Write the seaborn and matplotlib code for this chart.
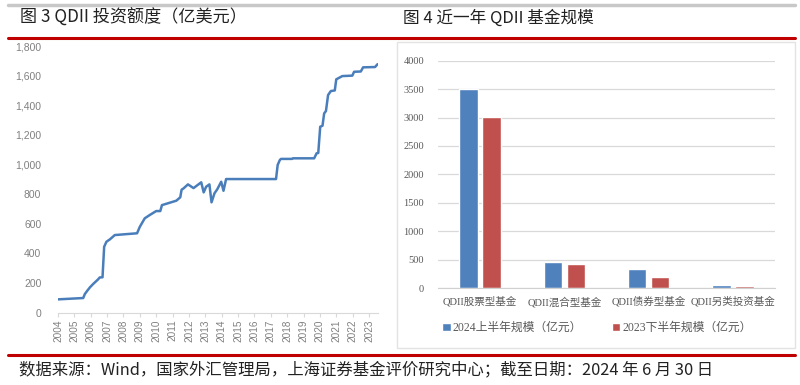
import matplotlib.pyplot as plt
import seaborn as sns
import pandas as pd
from matplotlib.lines import Line2D
from matplotlib.patches import Rectangle
from matplotlib.ticker import FuncFormatter

# QDII investment quota (100 million USD)
quota_year = [2004.00, 2005.54, 2005.64, 2005.80, 2005.95, 2006.15, 2006.45, 2006.55, 2006.72,
              2006.82, 2006.96, 2007.17, 2007.47, 2008.83, 2009.00, 2009.30, 2009.60, 2010.00,
              2010.25, 2010.35, 2010.82, 2011.23, 2011.47, 2011.55, 2011.67, 2011.94, 2012.28,
              2012.75, 2012.90, 2013.05, 2013.25, 2013.38, 2013.56, 2013.73, 2013.97, 2014.11,
              2014.27, 2017.32, 2017.42, 2017.55, 2017.62, 2018.30, 2018.35, 2019.65, 2019.80,
              2019.90, 2020.02, 2020.16, 2020.26, 2020.37, 2020.50, 2020.67, 2020.91, 2021.00,
              2021.37, 2021.98, 2022.09, 2022.50, 2022.64, 2023.37, 2023.51, 2023.57]
quota_value = [90, 99, 126, 150, 171, 194, 225, 238, 239,
               445, 479, 495, 524, 536, 580, 637, 659, 686,
               686, 726, 742, 756, 779, 830, 839, 866, 841,
               880, 812, 850, 866, 745, 806, 833, 884, 823,
               902, 902, 997, 1030, 1038, 1038, 1042, 1042, 1076,
               1078, 1255, 1262, 1345, 1361, 1469, 1496, 1500, 1575,
               1597, 1600, 1626, 1628, 1656, 1658, 1676, 1678]
year_ticks = list(range(2004, 2024))

# QDII fund size (100 million CNY)
fund_types = ['QDII股票型基金', 'QDII混合型基金', 'QDII债券型基金', 'QDII另类投资基金']
size_2024h1 = [3495, 451, 339, 47]
size_2023h2 = [3010, 421, 188, 35]
series_names = ['2024上半年规模（亿元）', '2023下半年规模（亿元）']

W, H = 800, 385


def fx(px):
    return px / W


def fy(py):
    return 1 - py / H


sns.set_style('white')
plt.rcParams['font.family'] = ['Liberation Sans', 'Noto Sans CJK SC', 'DejaVu Sans']
serif = ['Liberation Serif', 'Noto Sans CJK SC', 'DejaVu Sans']
cjk = ['Noto Sans CJK SC', 'DejaVu Sans']

fig = plt.figure(figsize=(8, 3.85), dpi=100)

# header / footer rules
fig.add_artist(Line2D([fx(8), fx(795)], [fy(5), fy(5)], color='#c8c8c8', lw=2.5))
fig.add_artist(Line2D([fx(8), fx(795)], [fy(38), fy(38)], color='#c00000', lw=2.2))
fig.add_artist(Line2D([fx(8), fx(795)], [fy(355), fy(355)], color='#c00000', lw=2.2))
fig.add_artist(Rectangle((fx(397), fy(348)), fx(795) - fx(397), fy(42) - fy(348),
                         fill=False, edgecolor='#e3e3e3', lw=1))

fig.text(fx(20), fy(18), '图 3 QDII 投资额度（亿美元）', family=cjk, fontsize=12.3,
         va='center', ha='left', color='#222222')
fig.text(fx(403), fy(18), '图 4 近一年 QDII 基金规模', family=cjk, fontsize=12,
         va='center', ha='left', color='#222222')
fig.text(fx(19), fy(370), '数据来源：Wind，国家外汇管理局，上海证券基金评价研究中心；截至日期：2024 年 6 月 30 日',
         family=cjk, fontsize=11.8, style='italic', va='center', ha='left', color='#222222')

# left: line chart
ax1 = fig.add_axes([fx(58), fy(312.7), fx(378) - fx(58), fy(46) - fy(312.7)])
sns.lineplot(x=quota_year, y=quota_value, ax=ax1, color='#4a7ebb', linewidth=1.8,
             estimator=None, sort=False)
ax1.set_xlim(2004, 2023.55)
ax1.set_ylim(0, 1800)
ax1.set_yticks(range(0, 1801, 200))
ax1.yaxis.set_major_formatter(FuncFormatter(lambda v, p: f'{int(v):,}'))
ax1.set_xticks(year_ticks)
ax1.set_xticklabels([str(y) for y in year_ticks], rotation=90)
for s in ['left', 'right', 'top']:
    ax1.spines[s].set_visible(False)
ax1.spines['bottom'].set_color('#d9d9d9')
ax1.tick_params(axis='x', colors='#808080', labelsize=7.2, length=3, color='#d9d9d9',
                direction='out', bottom=True, pad=2)
ax1.tick_params(axis='y', colors='#808080', labelsize=7.5, length=0, pad=12)
ax1.set_xlabel('')
ax1.set_ylabel('')

# right: grouped bars
df = pd.DataFrame({
    'type': fund_types * 2,
    'size': size_2024h1 + size_2023h2,
    'period': [series_names[0]] * 4 + [series_names[1]] * 4,
})
ax2 = fig.add_axes([fx(438), fy(288), fx(775) - fx(438), fy(60.7) - fy(288)])
sns.barplot(data=df, x='type', y='size', hue='period', ax=ax2,
            palette=['#4f81bd', '#c0504d'], saturation=1, width=0.55, gap=0.2, legend=True)
ax2.set_ylim(0, 4000)
ax2.set_yticks(range(0, 4001, 500))
ax2.grid(axis='y', color='#d9d9d9', lw=0.9)
ax2.set_axisbelow(True)
for s in ['left', 'right', 'top']:
    ax2.spines[s].set_visible(False)
ax2.spines['bottom'].set_color('#d0d0d0')
ax2.tick_params(axis='both', length=0, colors='#595959')
ax2.tick_params(axis='y', labelsize=7.5, pad=10)
ax2.tick_params(axis='x', labelsize=7.6, pad=6)
for lab in ax2.get_xticklabels() + ax2.get_yticklabels():
    lab.set_family(serif)
ax2.set_xlabel('')
ax2.set_ylabel('')
handles, labels = ax2.get_legend_handles_labels()
ax2.legend(handles, labels, loc='center', bbox_to_anchor=(fx(597), fy(328)),
           bbox_transform=fig.transFigure, ncol=2, frameon=False,
           handlelength=0.7, handleheight=0.7, handletextpad=0.2, columnspacing=2.5,
           prop={'family': serif, 'size': 8.5}, labelcolor='#595959')

fig.savefig('out.png', dpi=100)
